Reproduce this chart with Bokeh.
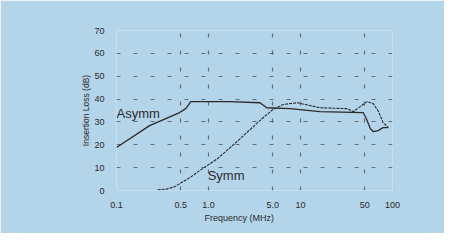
from bokeh.plotting import figure
from bokeh.models import Range1d, FixedTicker, Label, CustomJSTickFormatter, Title
from bokeh.embed import file_html
from bokeh.resources import INLINE

# ---- data ----
x_ticks = [0.1, 0.5, 1.0, 5.0, 10, 50, 100]
x_tick_labels = ["0.1", "0.5", "1.0", "5.0", "10", "50", "100"]
y_ticks = [0, 10, 20, 30, 40, 50, 60, 70]

asymm_f = [0.1, 0.229, 0.486, 0.566, 0.61, 0.64, 1.7, 3.62, 4.3, 7.7, 16.3,
           48, 52, 57.4, 61.6, 69.8, 79, 90]
asymm_db = [18.8, 28.4, 34.1, 35.8, 37.6, 38.9, 38.9, 38.4, 36.2, 35.8, 34.5,
            34.1, 31.4, 27.1, 25.8, 26.2, 27.5, 27.5]

symm_f = [0.28, 0.35, 0.43, 0.63, 0.8, 1.26, 2.04, 3.81, 5.0, 6.46, 9.2,
          16.3, 32, 37.5, 41.5, 53, 61.6, 69.8, 79, 90]
symm_db = [0.3, 0.6, 1.7, 5.7, 8.7, 14, 21.4, 31.4, 35.4, 37.6, 38.4,
           36.2, 35.8, 34.5, 35.8, 38.9, 38.0, 34.9, 29.7, 27.5]

BG = "#b4d4ea"
INK = "#2a2a2a"

p = figure(width=444, height=233, x_axis_type="log",
           x_range=Range1d(0.1, 100), y_range=Range1d(0, 70),
           output_backend="svg", toolbar_location=None,
           min_border_left=116, min_border_right=52,
           min_border_top=30, min_border_bottom=43)
p.background_fill_color = BG
p.border_fill_color = BG
p.outline_line_color = None

p.xaxis.ticker = FixedTicker(ticks=x_ticks)
p.xaxis.formatter = CustomJSTickFormatter(
    args=dict(tv=x_ticks, tl=x_tick_labels),
    code="""
for (let i = 0; i < tv.length; i++) {
  if (Math.abs(tv[i] - tick) < 1e-9) return tl[i];
}
return tick.toString();
""")
p.yaxis.ticker = FixedTicker(ticks=y_ticks)

for ax in (p.xaxis, p.yaxis):
    ax.axis_line_color = None
    ax.major_tick_line_color = None
    ax.minor_tick_line_color = None
    ax.major_label_text_font = "Liberation Sans"
    ax.major_label_text_font_size = "9px"
    ax.major_label_text_color = INK
    ax.axis_label_text_font = "Liberation Sans"
    ax.axis_label_text_font_size = "8.5px"
    ax.axis_label_text_font_style = "normal"
    ax.axis_label_text_color = INK

p.xaxis.major_label_standoff = 5
p.yaxis.major_label_standoff = 6
p.yaxis.axis_label = "Insertion Loss (dB)"
p.yaxis.axis_label_standoff = 0

p.xgrid.ticker = FixedTicker(ticks=[0.5, 1.0, 5.0, 10, 50])
p.ygrid.ticker = FixedTicker(ticks=[10, 20, 30, 40, 50, 60])
for g in (p.xgrid, p.ygrid):
    g.grid_line_color = INK
    g.grid_line_alpha = 0.6
    g.grid_line_width = 1.2
    g.grid_line_dash = "4 13"

p.line(asymm_f, asymm_db, line_color=INK, line_width=1.3)
p.line(symm_f, symm_db, line_color=INK, line_width=1.1, line_dash="3 1")

p.add_layout(Label(x=0.1, y=33.6, text="Asymm", text_font="Liberation Sans",
                   text_font_size="13px", text_color=INK, text_baseline="middle"))
p.add_layout(Label(x=0.98, y=6.5, text="Symm", text_font="Liberation Sans",
                   text_font_size="13px", text_color=INK, text_baseline="middle"))

p.add_layout(Title(text="Frequency (MHz)", align="left", offset=88,
                   text_font="Liberation Sans", text_font_size="9px",
                   text_font_style="normal", text_color=INK, standoff=0), "below")

open("out.html", "w").write(file_html(p, INLINE))
